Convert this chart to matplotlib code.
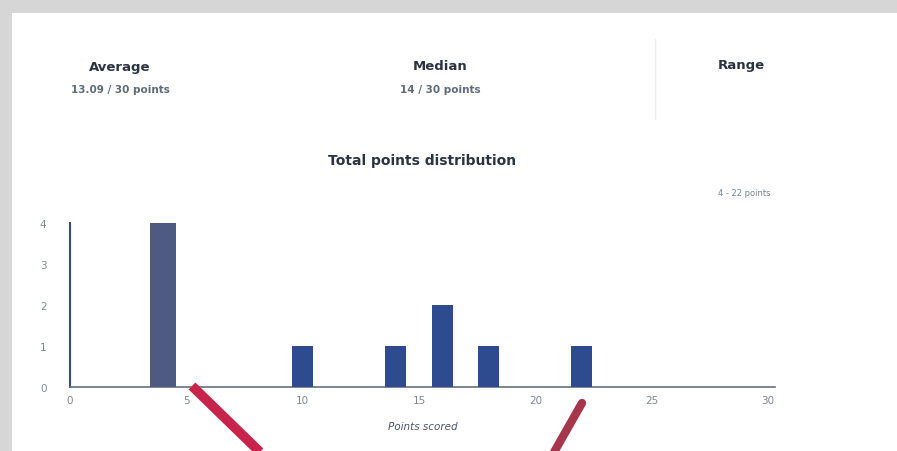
import matplotlib.pyplot as plt
from matplotlib.patches import Rectangle
from matplotlib.lines import Line2D

# data
scores = [4, 10, 14, 16, 18, 22]
counts = [4, 1, 1, 2, 1, 1]
bar_colors = ["#4f5a82", "#2f4b8f", "#2f4b8f", "#2f4b8f", "#2f4b8f", "#2f4b8f"]
bar_widths = [1.1, 0.9, 0.9, 0.9, 0.9, 0.9]
x_ticks = [0, 5, 10, 15, 20, 25, 30]
y_ticks = [0, 1, 2, 3, 4]

W, H = 897, 452


def fx(px):
    return px / W


def fy(py):
    return 1 - py / H


fig = plt.figure(figsize=(W / 100, H / 100), dpi=100)
fig.patch.set_facecolor("#d6d6d6")
fig.add_artist(Rectangle((fx(12), 0), 1, fy(14), transform=fig.transFigure,
                         facecolor="white", edgecolor="none", zorder=0))
# divider by the Range block
fig.add_artist(Line2D([fx(655), fx(655)], [fy(40), fy(120)], transform=fig.transFigure,
                      color="#eeeeee", lw=1))

dark = "#2b3340"
grey = "#5f6b7a"
fig.text(fx(120), fy(68), "Average", ha="center", va="center", fontsize=9.5, weight="bold", color=dark)
fig.text(fx(120), fy(90), "13.09 / 30 points", ha="center", va="center", fontsize=7.5, weight="bold", color=grey)
fig.text(fx(440), fy(66), "Median", ha="center", va="center", fontsize=9.5, weight="bold", color=dark)
fig.text(fx(440), fy(90), "14 / 30 points", ha="center", va="center", fontsize=7.5, weight="bold", color=grey)
fig.text(fx(741), fy(66), "Range", ha="center", va="center", fontsize=9.5, weight="bold", color=dark)
fig.text(fx(744), fy(194), "4 - 22 points", ha="center", va="center", fontsize=6, color="#7a8490")
fig.text(fx(422), fy(161), "Total points distribution", ha="center", va="center", fontsize=10, weight="bold", color=dark)

ax = fig.add_axes([fx(70), fy(388), fx(775) - fx(70), fy(224) - fy(388)])
ax.set_facecolor("none")
ax.bar(scores, counts, width=bar_widths, color=bar_colors, zorder=3)
ax.set_xlim(0, 30.3)
ax.set_ylim(0, 4)
ax.set_xticks(x_ticks)
ax.set_yticks(y_ticks)
ax.tick_params(length=0, labelsize=7.5, colors="#7f8892")
ax.tick_params(axis="x", pad=6)
ax.tick_params(axis="y", pad=17)
for s in ["top", "right"]:
    ax.spines[s].set_visible(False)
ax.spines["left"].set_color("#3b4a7a")
ax.spines["left"].set_linewidth(1.5)
ax.spines["bottom"].set_color("#6a7080")
ax.spines["bottom"].set_linewidth(1.2)
ax.set_xlabel("Points scored", fontsize=7.5, style="italic", color="#4a5668", labelpad=11)

# red annotation strokes drawn over the screenshot
fig.add_artist(Line2D([fx(192), fx(262)], [fy(387), fy(455)], transform=fig.transFigure,
                      color="#c8234a", lw=7, solid_capstyle="butt", zorder=5))
fig.add_artist(Line2D([fx(582), fx(553)], [fy(404), fy(455)], transform=fig.transFigure,
                      color="#a5364c", lw=6, solid_capstyle="round", zorder=5))

fig.savefig("out.png", dpi=100)
